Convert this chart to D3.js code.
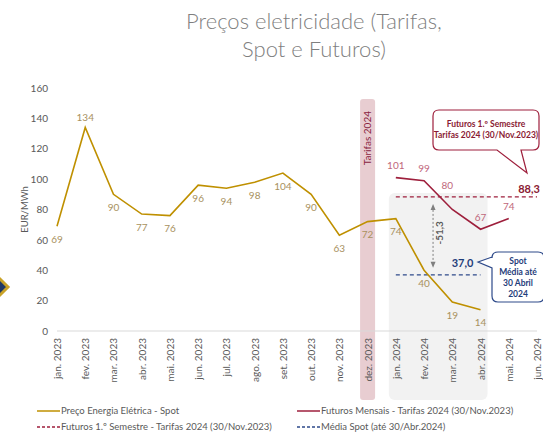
<!DOCTYPE html>
<html>
<head>
<meta charset="utf-8">
<script src="https://cdn.jsdelivr.net/npm/d3@7"></script>
<style>
  body { margin: 0; background: #fff; }
  svg { font-family: Lato, "Open Sans", sans-serif; }
</style>
</head>
<body>
<div id="chart"></div>
<script>
var months = ['jan.2023', 'fev.2023', 'mar.2023', 'abr.2023', 'mai.2023', 'jun.2023',
              'jul.2023', 'ago.2023', 'set.2023', 'out.2023', 'nov.2023', 'dez.2023',
              'jan.2024', 'fev.2024', 'mar.2024', 'abr.2024', 'mai.2024', 'jun.2024'];
var spotMonths = months.slice(0, 16);
var spotValues = [69, 134, 90, 77, 76, 96, 94, 98, 104, 90, 63, 72, 74, 40, 19, 14];
var futMonths = ['jan.2024', 'fev.2024', 'mar.2024', 'abr.2024', 'mai.2024'];
var futValues = [101, 99, 80, 67, 74];
var futSemestre = 88.3;
var mediaSpot = 37.0;
var yTicks = [0, 20, 40, 60, 80, 100, 120, 140, 160];

function drawChart() {
    var width = 543, height = 435;
    var gold = '#bf9000', goldLbl = '#a8915e'
      , red = '#9e1f3c', redLbl = '#c0677b'
      , blue = '#2e4a8a', blueTxt = '#1f3d7a';

    var svg = d3.select('#chart').append('svg')
        .attr('width', width)
        .attr('height', height);

    var x = d3.scalePoint().domain(months).range([57, 537]);
    var y = d3.scaleLinear().domain([0, 160]).range([331, 88]);

    // titulo
    svg.append('text').attr('x', 314).attr('y', 29).attr('text-anchor', 'middle')
        .style('font-size', '22px').style('fill', '#7f7f7f').style('font-weight', 300)
        .text('Preços eletricidade (Tarifas,');
    svg.append('text').attr('x', 314).attr('y', 57).attr('text-anchor', 'middle')
        .style('font-size', '22px').style('fill', '#7f7f7f').style('font-weight', 300)
        .text('Spot e Futuros)');

    // losango decorativo
    svg.append('path')
        .attr('d', 'M-5,274 L8,287 L-5,300 Z')
        .attr('fill', '#1f3864').attr('stroke', '#c9a227').attr('stroke-width', 3);

    // faixa dez.2023
    var xd = x('dez.2023');
    svg.append('rect').attr('x', xd - 7.5).attr('y', 99).attr('width', 15).attr('height', 301)
        .attr('rx', 3).attr('fill', '#e8cdd1');
    svg.append('text')
        .attr('transform', 'translate(' + [xd + 3.5, 111] + ') rotate(-90)')
        .attr('text-anchor', 'end')
        .style('font-size', '10px').style('fill', '#8a2440')
        .text('Tarifas 2024');

    // caixa cinza 2024
    svg.append('rect').attr('x', x('jan.2024') - 7).attr('y', 193)
        .attr('width', x('abr.2024') - x('jan.2024') + 14).attr('height', 207)
        .attr('rx', 6).attr('fill', '#f2f2f2');

    // eixo y
    var yAxis = svg.append('g').attr('transform', 'translate(48,0)')
        .call(d3.axisLeft(y).tickValues(yTicks).tickSize(0).tickPadding(0));
    yAxis.select('.domain').remove();
    yAxis.selectAll('text').style('font-size', '10px').style('fill', '#595959')
        .style('font-family', 'Lato, sans-serif');

    svg.append('text')
        .attr('transform', 'translate(28,' + y(80) + ') rotate(-90)')
        .attr('text-anchor', 'middle')
        .style('font-size', '9.5px').style('fill', '#595959')
        .text('EUR/MWh');

    // eixo x
    svg.append('line').attr('x1', x.range()[0]).attr('x2', x.range()[1])
        .attr('y1', y(0)).attr('y2', y(0))
        .attr('stroke', '#d9d9d9').attr('stroke-width', 1);
    var xAxis = svg.append('g').attr('transform', 'translate(0,' + y(0) + ')')
        .call(d3.axisBottom(x).tickSize(0).tickPadding(0));
    xAxis.select('.domain').remove();
    xAxis.selectAll('text')
        .attr('transform', 'rotate(-90)')
        .attr('x', -7).attr('y', 0).attr('dy', '0.35em')
        .attr('text-anchor', 'end')
        .style('font-size', '10px').style('fill', '#595959')
        .style('font-family', 'Lato, sans-serif')
        .text(function (d) { return d.replace('.', '. '); });

    // linhas tracejadas
    svg.append('line').attr('x1', x('jan.2024')).attr('x2', x('jun.2024'))
        .attr('y1', y(futSemestre)).attr('y2', y(futSemestre))
        .attr('stroke', red).attr('stroke-width', 1.3).attr('stroke-dasharray', '4,3');
    svg.append('line').attr('x1', x('jan.2024')).attr('x2', x('abr.2024'))
        .attr('y1', y(mediaSpot)).attr('y2', y(mediaSpot))
        .attr('stroke', blue).attr('stroke-width', 1.3).attr('stroke-dasharray', '4,3');

    // linhas
    var line = d3.line().x(function (d) { return x(d[0]); }).y(function (d) { return y(d[1]); });
    var spot = d3.zip(spotMonths, spotValues);
    var fut = d3.zip(futMonths, futValues);

    svg.append('path').datum(spot).attr('d', line)
        .attr('fill', 'none').attr('stroke', gold).attr('stroke-width', 1.6);
    svg.append('path').datum(fut).attr('d', line)
        .attr('fill', 'none').attr('stroke', red).attr('stroke-width', 1.6);

    // etiquetas
    svg.selectAll('.lblSpot').data(spot).enter().append('text')
        .attr('x', function (d) { return x(d[0]); })
        .attr('y', function (d, i) { return y(d[1]) + (i === 1 ? -10 : 13); })
        .attr('dy', '0.35em').attr('text-anchor', 'middle')
        .style('font-size', '10px').style('fill', goldLbl)
        .text(function (d) { return d[1]; });
    svg.selectAll('.lblFut').data(fut).enter().append('text')
        .attr('x', function (d, i) { return x(d[0]) - (i === 2 ? 5 : 0); })
        .attr('y', function (d, i) { return y(d[1]) - (i === 2 ? 24 : 12); })
        .attr('dy', '0.35em').attr('text-anchor', 'middle')
        .style('font-size', '10px').style('fill', redLbl)
        .text(function (d) { return d[1]; });

    // diferenca
    var xa = x('fev.2024') + 9;
    svg.append('line').attr('x1', xa).attr('x2', xa)
        .attr('y1', y(futSemestre) + 9).attr('y2', y(mediaSpot) - 9)
        .attr('stroke', '#7f7f7f').attr('stroke-width', 1).attr('stroke-dasharray', '2,2');
    svg.append('path').attr('d', 'M' + (xa - 2.5) + ',' + (y(futSemestre) + 13) + ' L' + xa + ',' + (y(futSemestre) + 7) + ' L' + (xa + 2.5) + ',' + (y(futSemestre) + 13) + 'Z')
        .attr('fill', '#7f7f7f');
    svg.append('path').attr('d', 'M' + (xa - 2.5) + ',' + (y(mediaSpot) - 13) + ' L' + xa + ',' + (y(mediaSpot) - 7) + ' L' + (xa + 2.5) + ',' + (y(mediaSpot) - 13) + 'Z')
        .attr('fill', '#7f7f7f');
    svg.append('text')
        .attr('transform', 'translate(' + [xa + 10, (y(futSemestre) + y(mediaSpot)) / 2 - 3] + ') rotate(-90)')
        .attr('text-anchor', 'middle')
        .style('font-size', '10px').style('font-weight', 'bold').style('fill', '#595959')
        .text((mediaSpot - futSemestre).toFixed(1).replace('.', ','));

    svg.append('text').attr('x', x('jun.2024') - 8).attr('y', y(futSemestre) - 4)
        .attr('text-anchor', 'middle')
        .style('font-size', '11px').style('font-weight', 'bold').style('fill', '#8a1a33')
        .text(futSemestre.toFixed(1).replace('.', ','));
    svg.append('text').attr('x', x('abr.2024') - 18).attr('y', y(mediaSpot) - 8)
        .attr('text-anchor', 'middle')
        .style('font-size', '11px').style('font-weight', 'bold').style('fill', blueTxt)
        .text(mediaSpot.toFixed(1).replace('.', ','));

    // balao futuros
    svg.append('path')
        .attr('d', 'M439,110 H533 Q539,110 539,116 V144 Q539,150 533,150 H521 L527,173 L497,150 H439 Q433,150 433,144 V116 Q433,110 439,110 Z')
        .attr('fill', '#fff').attr('stroke', red).attr('stroke-width', 1.2);
    svg.append('text').attr('x', 486).attr('y', 127).attr('text-anchor', 'middle')
        .style('font-size', '8.5px').style('font-weight', 'bold').style('fill', '#8a1a33')
        .text('Futuros 1.º Semestre');
    svg.append('text').attr('x', 486).attr('y', 138).attr('text-anchor', 'middle')
        .style('font-size', '8.5px').style('font-weight', 'bold').style('fill', '#8a1a33')
        .text('Tarifas 2024 (30/Nov.2023)');

    // balao spot
    svg.append('path')
        .attr('d', 'M498,252 H538 Q544,252 544,258 V296 Q544,302 538,302 H498 Q492,302 492,296 V268 L478,262 L492,257 V258 Q492,252 498,252 Z')
        .attr('fill', '#fff').attr('stroke', blue).attr('stroke-width', 1.2);
    var spotTxt = ['Spot', 'Média até', '30 Abril', '2024'];
    svg.selectAll('.spotTxt').data(spotTxt).enter().append('text')
        .attr('x', 518).attr('y', function (d, i) { return 264 + i * 11; })
        .attr('text-anchor', 'middle')
        .style('font-size', '8.5px').style('font-weight', 'bold').style('fill', blueTxt)
        .text(function (d) { return d; });

    // legenda
    var legend = [
        { label: 'Preço Energia Elétrica - Spot', color: gold, dash: null, x: 37, y: 411 },
        { label: 'Futuros Mensais - Tarifas 2024 (30/Nov.2023)', color: red, dash: null, x: 297, y: 411 },
        { label: 'Futuros 1.º Semestre - Tarifas 2024 (30/Nov.2023)', color: red, dash: '3,2', x: 37, y: 427 },
        { label: 'Média Spot (até 30/Abr.2024)', color: blue, dash: '3,2', x: 297, y: 427 }
    ];
    var lg = svg.selectAll('.lg').data(legend).enter().append('g')
        .attr('transform', function (d) { return 'translate(' + [d.x, d.y] + ')'; });
    lg.append('line').attr('x1', 0).attr('x2', 23).attr('y1', 0).attr('y2', 0)
        .attr('stroke', function (d) { return d.color; }).attr('stroke-width', 1.5)
        .attr('stroke-dasharray', function (d) { return d.dash; });
    lg.append('text').attr('x', 24).attr('y', 0).attr('dy', '0.35em')
        .style('font-size', '9.5px').style('fill', '#595959')
        .text(function (d) { return d.label; });
}
drawChart();
</script>
</body>
</html>
